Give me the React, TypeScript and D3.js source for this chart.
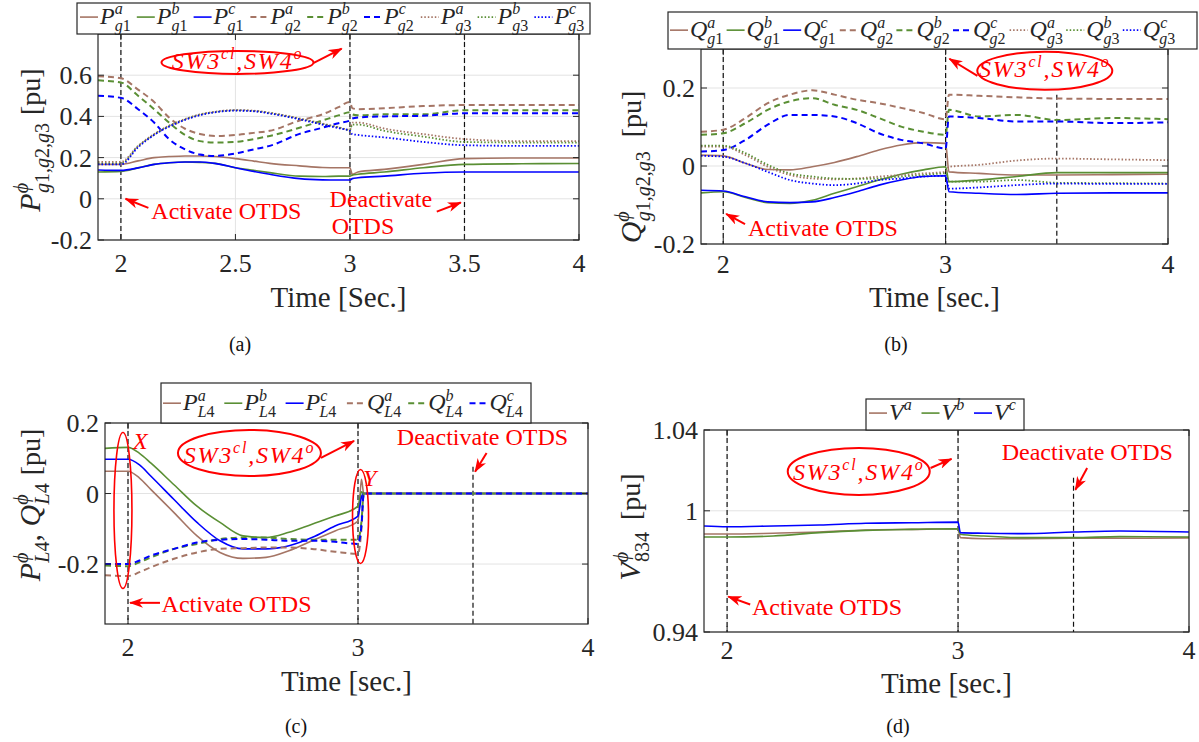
import React from "react";
import * as d3 from "d3";

const BROWN = "#a57565";
const GREEN = "#5a8f34";
const BLUE = "#0000ff";
const RED = "#ff0000";
const FONT = "'Liberation Serif', 'Times New Roman', 'DejaVu Serif', serif";

// ---- panel (a): active power of the generators ----
const timeA = [1.9, 2.0, 2.075, 2.145, 2.21, 2.28, 2.345, 2.41, 2.5, 2.58, 2.65, 2.78, 2.88, 2.95, 3.0, 3.01, 3.035, 3.15, 3.32, 3.5, 3.75, 4.0];
const pg1a = [0.167, 0.167, 0.184, 0.2, 0.205, 0.208, 0.208, 0.205, 0.195, 0.183, 0.172, 0.16, 0.152, 0.151, 0.151, 0.119, 0.13, 0.143, 0.167, 0.195, 0.198, 0.198];
const pg1b = [0.13, 0.133, 0.15, 0.167, 0.175, 0.179, 0.177, 0.172, 0.151, 0.138, 0.127, 0.11, 0.108, 0.11, 0.11, 0.115, 0.119, 0.13, 0.151, 0.167, 0.17, 0.171];
const pg1c = [0.14, 0.138, 0.15, 0.167, 0.175, 0.179, 0.179, 0.172, 0.151, 0.133, 0.119, 0.098, 0.092, 0.091, 0.091, 0.098, 0.102, 0.11, 0.124, 0.13, 0.13, 0.13];
const pg2a = [0.595, 0.585, 0.53, 0.47, 0.395, 0.34, 0.315, 0.305, 0.31, 0.32, 0.33, 0.38, 0.41, 0.445, 0.47, 0.44, 0.435, 0.44, 0.45, 0.455, 0.455, 0.455];
const pg2b = [0.575, 0.565, 0.5, 0.435, 0.37, 0.31, 0.28, 0.273, 0.276, 0.29, 0.305, 0.345, 0.38, 0.405, 0.42, 0.41, 0.405, 0.41, 0.41, 0.43, 0.43, 0.43];
const pg2c = [0.5, 0.49, 0.435, 0.37, 0.29, 0.24, 0.215, 0.208, 0.22, 0.24, 0.257, 0.315, 0.345, 0.367, 0.38, 0.39, 0.395, 0.4, 0.403, 0.415, 0.415, 0.415];
const pg3a = [0.179, 0.179, 0.257, 0.314, 0.355, 0.387, 0.41, 0.423, 0.431, 0.428, 0.418, 0.39, 0.365, 0.348, 0.335, 0.37, 0.37, 0.341, 0.314, 0.29, 0.28, 0.28];
const pg3b = [0.172, 0.172, 0.255, 0.312, 0.353, 0.385, 0.408, 0.421, 0.429, 0.426, 0.416, 0.388, 0.363, 0.346, 0.333, 0.36, 0.36, 0.33, 0.302, 0.276, 0.273, 0.273];
const pg3c = [0.167, 0.167, 0.25, 0.31, 0.35, 0.383, 0.406, 0.42, 0.428, 0.425, 0.414, 0.386, 0.36, 0.343, 0.33, 0.314, 0.31, 0.298, 0.276, 0.26, 0.257, 0.257];

// ---- panel (b): reactive power of the generators ----
const timeB = [1.9, 2.0, 2.1, 2.2, 2.3, 2.4, 2.5, 2.6, 2.7, 2.8, 2.9, 3.0, 3.015, 3.15, 3.32, 3.5, 3.75, 4.0];
const qg1a = [0.028, 0.026, 0.007, -0.009, -0.01, -0.002, 0.009, 0.024, 0.041, 0.054, 0.06, 0.058, -0.015, -0.019, -0.023, -0.023, -0.022, -0.021];
const qg1b = [-0.069, -0.066, -0.081, -0.094, -0.096, -0.088, -0.07, -0.053, -0.036, -0.021, -0.01, -0.002, -0.04, -0.036, -0.027, -0.017, -0.017, -0.017];
const qg1c = [-0.062, -0.064, -0.079, -0.092, -0.094, -0.092, -0.081, -0.066, -0.049, -0.036, -0.027, -0.025, -0.066, -0.07, -0.073, -0.07, -0.069, -0.069];
const qg2a = [0.088, 0.093, 0.123, 0.161, 0.183, 0.194, 0.183, 0.17, 0.161, 0.149, 0.136, 0.12, 0.183, 0.18, 0.176, 0.173, 0.172, 0.172];
const qg2b = [0.08, 0.084, 0.11, 0.144, 0.166, 0.174, 0.157, 0.144, 0.123, 0.101, 0.088, 0.08, 0.144, 0.127, 0.131, 0.118, 0.123, 0.12];
const qg2c = [0.037, 0.041, 0.067, 0.106, 0.131, 0.131, 0.127, 0.11, 0.084, 0.067, 0.058, 0.045, 0.127, 0.123, 0.114, 0.114, 0.11, 0.112];
const qg3a = [0.05, 0.05, 0.028, -0.002, -0.023, -0.032, -0.034, -0.032, -0.027, -0.023, -0.019, -0.015, -0.002, 0.003, 0.014, 0.019, 0.017, 0.015];
const qg3b = [0.052, 0.052, 0.033, 0.003, -0.019, -0.027, -0.032, -0.033, -0.032, -0.027, -0.023, -0.019, -0.04, -0.04, -0.036, -0.043, -0.044, -0.045];
const qg3c = [0.026, 0.024, 0.007, -0.015, -0.036, -0.045, -0.049, -0.045, -0.036, -0.032, -0.027, -0.025, -0.058, -0.055, -0.049, -0.045, -0.046, -0.046];

// ---- panel (c): load 4 ----
const timeC = [1.9, 2.0, 2.05, 2.1, 2.2, 2.3, 2.4, 2.5, 2.6, 2.7, 2.8, 2.9, 3.0, 3.015, 3.025, 4.0];
const pl4a = [0.063, 0.063, 0.044, 0.011, -0.054, -0.12, -0.167, -0.184, -0.181, -0.162, -0.134, -0.106, -0.078, 0.04, 0, 0];
const pl4b = [0.128, 0.131, 0.114, 0.086, 0.025, -0.036, -0.082, -0.12, -0.125, -0.11, -0.087, -0.064, -0.036, 0.005, 0, 0];
const pl4c = [0.097, 0.097, 0.081, 0.049, -0.017, -0.082, -0.134, -0.157, -0.157, -0.148, -0.125, -0.092, -0.064, -0.01, 0, 0];
const ql4a = [-0.232, -0.234, -0.223, -0.209, -0.185, -0.167, -0.157, -0.155, -0.153, -0.153, -0.157, -0.165, -0.171, -0.1, 0, 0];
const ql4b = [-0.204, -0.206, -0.195, -0.181, -0.157, -0.143, -0.129, -0.125, -0.125, -0.129, -0.131, -0.131, -0.131, -0.08, 0, 0];
const ql4c = [-0.2, -0.2, -0.19, -0.176, -0.157, -0.139, -0.131, -0.129, -0.131, -0.134, -0.134, -0.137, -0.143, -0.09, 0, 0];

// ---- panel (d): voltage at bus 834 ----
const timeD = [1.9, 2.0, 2.2, 2.4, 2.6, 2.8, 3.0, 3.01, 3.11, 3.28, 3.5, 3.7, 4.0];
const va = [0.9885, 0.9885, 0.9889, 0.9895, 0.9905, 0.9908, 0.9911, 0.9867, 0.9862, 0.9862, 0.9864, 0.9864, 0.9866];
const vb = [0.987, 0.987, 0.9875, 0.9892, 0.9903, 0.9908, 0.9911, 0.9884, 0.9875, 0.9867, 0.9867, 0.9872, 0.987];
const vc = [0.9925, 0.9921, 0.9925, 0.993, 0.9938, 0.9941, 0.9944, 0.9892, 0.9889, 0.9887, 0.9895, 0.99, 0.9895];

const SOLID = "";
const DASHED = "6,4";
const DOTTED = "1.5,2";
const PHI = "ϕ";

type Line = { base: string; sup: string; sub: string; values: number[]; color: string; dash: string; w: number };

const linesA: Line[] = [
  { base: "P", sup: "a", sub: "g1", values: pg1a, color: BROWN, dash: SOLID, w: 1.6 },
  { base: "P", sup: "b", sub: "g1", values: pg1b, color: GREEN, dash: SOLID, w: 1.6 },
  { base: "P", sup: "c", sub: "g1", values: pg1c, color: BLUE, dash: SOLID, w: 1.6 },
  { base: "P", sup: "a", sub: "g2", values: pg2a, color: BROWN, dash: DASHED, w: 2 },
  { base: "P", sup: "b", sub: "g2", values: pg2b, color: GREEN, dash: DASHED, w: 2 },
  { base: "P", sup: "c", sub: "g2", values: pg2c, color: BLUE, dash: DASHED, w: 2 },
  { base: "P", sup: "a", sub: "g3", values: pg3a, color: BROWN, dash: DOTTED, w: 1.8 },
  { base: "P", sup: "b", sub: "g3", values: pg3b, color: GREEN, dash: DOTTED, w: 1.8 },
  { base: "P", sup: "c", sub: "g3", values: pg3c, color: BLUE, dash: DOTTED, w: 1.8 },
];
const linesB: Line[] = [
  { base: "Q", sup: "a", sub: "g1", values: qg1a, color: BROWN, dash: SOLID, w: 1.6 },
  { base: "Q", sup: "b", sub: "g1", values: qg1b, color: GREEN, dash: SOLID, w: 1.6 },
  { base: "Q", sup: "c", sub: "g1", values: qg1c, color: BLUE, dash: SOLID, w: 1.6 },
  { base: "Q", sup: "a", sub: "g2", values: qg2a, color: BROWN, dash: DASHED, w: 2 },
  { base: "Q", sup: "b", sub: "g2", values: qg2b, color: GREEN, dash: DASHED, w: 2 },
  { base: "Q", sup: "c", sub: "g2", values: qg2c, color: BLUE, dash: DASHED, w: 2 },
  { base: "Q", sup: "a", sub: "g3", values: qg3a, color: BROWN, dash: DOTTED, w: 1.8 },
  { base: "Q", sup: "b", sub: "g3", values: qg3b, color: GREEN, dash: DOTTED, w: 1.8 },
  { base: "Q", sup: "c", sub: "g3", values: qg3c, color: BLUE, dash: DOTTED, w: 1.8 },
];
const linesC: Line[] = [
  { base: "P", sup: "a", sub: "L4", values: pl4a, color: BROWN, dash: SOLID, w: 1.6 },
  { base: "P", sup: "b", sub: "L4", values: pl4b, color: GREEN, dash: SOLID, w: 1.6 },
  { base: "P", sup: "c", sub: "L4", values: pl4c, color: BLUE, dash: SOLID, w: 1.6 },
  { base: "Q", sup: "a", sub: "L4", values: ql4a, color: BROWN, dash: DASHED, w: 2 },
  { base: "Q", sup: "b", sub: "L4", values: ql4b, color: GREEN, dash: DASHED, w: 2 },
  { base: "Q", sup: "c", sub: "L4", values: ql4c, color: BLUE, dash: DASHED, w: 2 },
];
const linesD: Line[] = [
  { base: "V", sup: "a", sub: "", values: va, color: BROWN, dash: SOLID, w: 1.6 },
  { base: "V", sup: "b", sub: "", values: vb, color: GREEN, dash: SOLID, w: 1.6 },
  { base: "V", sup: "c", sub: "", values: vc, color: BLUE, dash: SOLID, w: 1.6 },
];

// split a string into italic letters and upright digits/punctuation
function Runs({ s }: { s: string }) {
  const out: { t: string; it: boolean }[] = [];
  for (const c of s) {
    const it = /[A-Za-zϕφ]/.test(c);
    const last = out[out.length - 1];
    if (last && last.it === it) last.t += c;
    else out.push({ t: c, it });
  }
  return (
    <>
      {out.map((r, i) => (
        <tspan key={i} fontStyle={r.it ? "italic" : "normal"}>{r.t}</tspan>
      ))}
    </>
  );
}

const estW = (s: string, size: number) => s.length * size * 0.5;

function symbol(base: string, sup: string, sub: string, size: number, small: number, key: string) {
  const up = size * 0.4;
  const down = size * 0.3;
  const parts = [
    <tspan key={key + "b"} fontStyle="italic">{base}</tspan>,
    <tspan key={key + "p"} fontSize={small} dy={-up}><Runs s={sup} /></tspan>,
  ];
  if (sub) {
    parts.push(
      <tspan key={key + "s"} fontSize={small} dx={-estW(sup, small)} dy={up + down}><Runs s={sub} /></tspan>
    );
  }
  return { parts, back: sub ? -down : up };
}

function Arrow({ x1, y1, x2, y2 }: { x1: number; y1: number; x2: number; y2: number }) {
  return <line x1={x1} y1={y1} x2={x2} y2={y2} stroke={RED} strokeWidth={2} markerEnd="url(#redArrow)" />;
}

function RedText({ x, y, children }: { x: number; y: number; children: React.ReactNode }) {
  return (
    <text x={x} y={y} fill={RED} fontSize={24}>{children}</text>
  );
}

function SwLabel({ cx, cy, rx, ry, ty }: { cx: number; cy: number; rx: number; ry: number; ty: number }) {
  return (
    <g>
      <ellipse cx={cx} cy={cy} rx={rx} ry={ry} fill="none" stroke={RED} strokeWidth={2} />
      <text x={cx} y={ty} textAnchor="middle" fill={RED} fontStyle="italic" fontSize={24} letterSpacing={1.8}>
        SW3<tspan fontSize={16} dy={-10}>cl</tspan>
        <tspan dy={10}>,SW4</tspan>
        <tspan fontSize={16} dy={-10}>o</tspan>
      </text>
    </g>
  );
}

type Scale = d3.ScaleLinear<number, number>;

type PanelProps = {
  id: string;
  box: { l: number; r: number; t: number; b: number };
  yDomain: [number, number];
  xTicks: number[];
  yTicks: number[];
  time: number[];
  lines: Line[];
  tops: number[]; // top value of the dashed markers at t = 2, 3, 3.5
  legend: { x0: number; x1: number; y0: number; y1: number; first: number; step: number };
  xLabel: string;
  xLabelY: number;
  tickY: number;
  yLabel: React.ReactNode;
  tag: string;
  tagX: number;
  tagY: number;
  annot: (x: Scale, y: Scale) => React.ReactNode;
};

function Panel(p: PanelProps) {
  const { box } = p;
  const x = d3.scaleLinear().domain([1.9, 4]).range([box.l, box.r]);
  const y = d3.scaleLinear().domain(p.yDomain).range([box.b, box.t]);
  const mkLine = (vals: number[]) =>
    d3.line<number>().x((_, i) => x(p.time[i])).y((d) => y(d)).curve(d3.curveMonotoneX)(vals) || "";
  const markers = [2, 3, 3.5];
  const lg = p.legend;
  const lgBase = lg.y0 + (lg.y1 - lg.y0) * 0.68;
  return (
    <g>
      <defs>
        <clipPath id={"clip" + p.id}>
          <rect x={box.l} y={box.t} width={box.r - box.l} height={box.b - box.t} />
        </clipPath>
      </defs>
      {/* grid */}
      {p.xTicks.map((t) => (
        <line key={"gx" + t} x1={x(t)} x2={x(t)} y1={box.t} y2={box.b} stroke="#e3e3e3" strokeWidth={1} />
      ))}
      {p.yTicks.map((t) => (
        <line key={"gy" + t} x1={box.l} x2={box.r} y1={y(t)} y2={y(t)} stroke="#e3e3e3" strokeWidth={1} />
      ))}
      {/* event markers */}
      {markers.map((t, i) => (
        <line key={"m" + t} x1={x(t)} x2={x(t)} y1={y(p.tops[i])} y2={box.b} stroke="#111" strokeWidth={1.2} strokeDasharray="5,3" />
      ))}
      {/* data */}
      <g clipPath={`url(#clip${p.id})`}>
        {p.lines.map((l, i) => (
          <path key={i} d={mkLine(l.values)} fill="none" stroke={l.color} strokeWidth={l.w} strokeDasharray={l.dash || undefined} />
        ))}
      </g>
      {/* box + ticks */}
      <rect x={box.l} y={box.t} width={box.r - box.l} height={box.b - box.t} fill="none" stroke="#262626" strokeWidth={1.2} />
      {p.xTicks.map((t) => (
        <g key={"tx" + t}>
          <line x1={x(t)} x2={x(t)} y1={box.b} y2={box.b - 6} stroke="#262626" />
          <line x1={x(t)} x2={x(t)} y1={box.t} y2={box.t + 6} stroke="#262626" />
          <text x={x(t)} y={p.tickY} textAnchor="middle" fontSize={26} fill="#262626">{String(t)}</text>
        </g>
      ))}
      {p.yTicks.map((t) => (
        <g key={"ty" + t}>
          <line x1={box.l} x2={box.l + 6} y1={y(t)} y2={y(t)} stroke="#262626" />
          <line x1={box.r} x2={box.r - 6} y1={y(t)} y2={y(t)} stroke="#262626" />
          <text x={box.l - 6} y={y(t) + 9} textAnchor="end" fontSize={26} fill="#262626">{String(t)}</text>
        </g>
      ))}
      <text x={(box.l + box.r) / 2} y={p.xLabelY} textAnchor="middle" fontSize={29} fill="#262626">{p.xLabel}</text>
      {p.yLabel}
      {p.annot(x, y)}
      {/* legend */}
      <rect x={lg.x0} y={lg.y0} width={lg.x1 - lg.x0} height={lg.y1 - lg.y0} fill="#fff" stroke="#262626" strokeWidth={1.2} />
      {p.lines.map((l, i) => {
        const lx = lg.first + i * lg.step;
        const s = symbol(l.base, l.sup, l.sub, 24, 16, "lg" + i);
        return (
          <g key={"lg" + i}>
            <line x1={lx} x2={lx + 18} y1={lgBase - 7} y2={lgBase - 7} stroke={l.color} strokeWidth={l.w} strokeDasharray={l.dash || undefined} />
            <text x={lx + 20} y={lgBase} fontSize={24} fill="#262626">{s.parts}</text>
          </g>
        );
      })}
      <text x={p.tagX} y={p.tagY} textAnchor="middle" fontSize={20} fill="#111">{p.tag}</text>
    </g>
  );
}

function YLabel({ x, y, syms, unitGap }: { x: number; y: number; syms: [string, string, string][]; unitGap?: number }) {
  const items: React.ReactNode[] = [];
  let back = 0;
  syms.forEach((s, i) => {
    if (i > 0) {
      items.push(<tspan key={"c" + i} dy={back}>, </tspan>);
      back = 0;
    }
    const r = symbol(s[0], s[1], s[2], 30, 20, "yl" + i);
    items.push(...r.parts);
    back = r.back;
  });
  items.push(<tspan key="u" dy={back} dx={unitGap ?? 8} fontSize={28}>[pu]</tspan>);
  return (
    <text transform={`translate(${x},${y}) rotate(-90)`} textAnchor="middle" fontSize={30} fill="#262626">
      {items}
    </text>
  );
}

export default function App() {
  return (
    <svg width={1199} height={742} fontFamily={FONT} style={{ position: "absolute", left: 0, top: 0, background: "#fff", fontFamily: FONT }}>
      <defs>
        <marker id="redArrow" markerUnits="userSpaceOnUse" markerWidth={14} markerHeight={10} refX={13} refY={5} orient="auto">
          <path d="M0,0 L14,5 L0,10 L4,5 Z" fill={RED} />
        </marker>
      </defs>
      <rect x={0} y={0} width={1199} height={742} fill="#fff" />

      <Panel
        id="a"
        box={{ l: 98, r: 579, t: 34, b: 240 }}
        yDomain={[-0.2, 0.8]}
        xTicks={[2, 2.5, 3, 3.5, 4]}
        yTicks={[-0.2, 0, 0.2, 0.4, 0.6]}
        time={timeA}
        lines={linesA}
        tops={[0.8, 0.8, 0.8]}
        legend={{ x0: 77, x1: 590, y0: 3, y1: 34, first: 80, step: 56.8 }}
        xLabel="Time [Sec.]"
        xLabelY={307}
        tickY={272}
        yLabel={<YLabel x={40} y={140} syms={[["P", PHI, "g1,g2,g3"]]} />}
        tag="(a)"
        tagX={240}
        tagY={351}
        annot={(x, y) => (
          <g>
            <SwLabel cx={x(2.509)} cy={y(0.662)} rx={76} ry={11.5} ty={y(0.631)} />
            <Arrow x1={x(2.842)} y1={y(0.66)} x2={x(2.964)} y2={y(0.729)} />
            <RedText x={x(2.133)} y={y(-0.1)}>Activate OTDS</RedText>
            <Arrow x1={x(2.12)} y1={y(-0.044)} x2={x(2.02)} y2={y(0)} />
            <RedText x={x(2.911)} y={y(-0.04)}>Deactivate</RedText>
            <RedText x={x(2.92)} y={y(-0.169)}>OTDS</RedText>
            <Arrow x1={x(3.379)} y1={y(-0.062)} x2={x(3.484)} y2={y(-0.018)} />
          </g>
        )}
      />

      <Panel
        id="b"
        box={{ l: 701, r: 1168, t: 49, b: 244 }}
        yDomain={[-0.2, 0.3]}
        xTicks={[2, 3, 4]}
        yTicks={[-0.2, 0, 0.2]}
        time={timeB}
        lines={linesB}
        tops={[0.3, 0.3, 0.183]}
        legend={{ x0: 668, x1: 1197, y0: 12, y1: 49, first: 670, step: 56.6 }}
        xLabel="Time [sec.]"
        xLabelY={307}
        tickY={273}
        yLabel={<YLabel x={641} y={167} syms={[["Q", PHI, "g1,g2,g3"]]} unitGap={14} />}
        tag="(b)"
        tagX={896}
        tagY={351}
        annot={(x, y) => (
          <g>
            <SwLabel cx={x(3.446)} cy={y(0.244)} rx={67.5} ry={19} ty={y(0.229)} />
            <Arrow x1={x(3.143)} y1={y(0.231)} x2={x(3.017)} y2={y(0.275)} />
            <RedText x={x(2.111)} y={y(-0.18)}>Activate OTDS</RedText>
            <Arrow x1={x(2.098)} y1={y(-0.149)} x2={x(2.013)} y2={y(-0.123)} />
          </g>
        )}
      />

      <Panel
        id="c"
        box={{ l: 105, r: 588, t: 423, b: 624 }}
        yDomain={[-0.37, 0.2]}
        xTicks={[2, 3, 4]}
        yTicks={[-0.2, 0, 0.2]}
        time={timeC}
        lines={linesC}
        tops={[0.2, 0.2, 0.076]}
        legend={{ x0: 161, x1: 531, y0: 383, y1: 423, first: 163, step: 61.3 }}
        xLabel="Time [sec.]"
        xLabelY={691}
        tickY={656}
        yLabel={<YLabel x={40} y={505} syms={[["P", PHI, "L4"], ["Q", PHI, "L4"]]} />}
        tag="(c)"
        tagX={296}
        tagY={733}
        annot={(x, y) => (
          <g>
            <ellipse cx={x(1.978)} cy={y(-0.048)} rx={9} ry={78} fill="none" stroke={RED} strokeWidth={1.6} />
            <text x={x(2.022)} y={y(0.127)} fill={RED} fontStyle="italic" fontSize={24}>X</text>
            <ellipse cx={x(3.011)} cy={y(-0.065)} rx={8} ry={47} fill="none" stroke={RED} strokeWidth={1.6} />
            <text x={x(3.022)} y={y(0.02)} fill={RED} fontStyle="italic" fontSize={24}>Y</text>
            <SwLabel cx={x(2.528)} cy={y(0.115)} rx={71.5} ry={23} ty={y(0.087)} />
            <Arrow x1={x(2.839)} y1={y(0.101)} x2={x(2.983)} y2={y(0.149)} />
            <RedText x={x(3.169)} y={y(0.138)}>Deactivate OTDS</RedText>
            <Arrow x1={x(3.559)} y1={y(0.115)} x2={x(3.509)} y2={y(0.062)} />
            <RedText x={x(2.146)} y={y(-0.335)}>Activate OTDS</RedText>
            <Arrow x1={x(2.139)} y1={y(-0.31)} x2={x(2.009)} y2={y(-0.31)} />
          </g>
        )}
      />

      <Panel
        id="d"
        box={{ l: 704, r: 1189, t: 430, b: 632 }}
        yDomain={[0.94, 1.04]}
        xTicks={[2, 3, 4]}
        yTicks={[0.94, 1, 1.04]}
        time={timeD}
        lines={linesD}
        tops={[1.04, 1.04, 1.0163]}
        legend={{ x0: 866, x1: 1024, y0: 399, y1: 430, first: 869, step: 52.5 }}
        xLabel="Time [sec.]"
        xLabelY={693}
        tickY={659}
        yLabel={<YLabel x={640} y={527} syms={[["V", PHI, "834"]]} unitGap={12} />}
        tag="(d)"
        tagX={898}
        tagY={733}
        annot={(x, y) => (
          <g>
            <SwLabel cx={x(2.57)} cy={y(1.0195)} rx={71} ry={23.5} ty={y(1.0153)} />
            <Arrow x1={x(2.881)} y1={y(1.0212)} x2={x(2.972)} y2={y(1.0257)} />
            <RedText x={x(3.189)} y={y(1.0252)}>Deactivate OTDS</RedText>
            <Arrow x1={x(3.559)} y1={y(1.0212)} x2={x(3.508)} y2={y(1.0104)} />
            <RedText x={x(2.108)} y={y(0.9486)}>Activate OTDS</RedText>
            <Arrow x1={x(2.1)} y1={y(0.9536)} x2={x(2.005)} y2={y(0.9575)} />
          </g>
        )}
      />
    </svg>
  );
}
